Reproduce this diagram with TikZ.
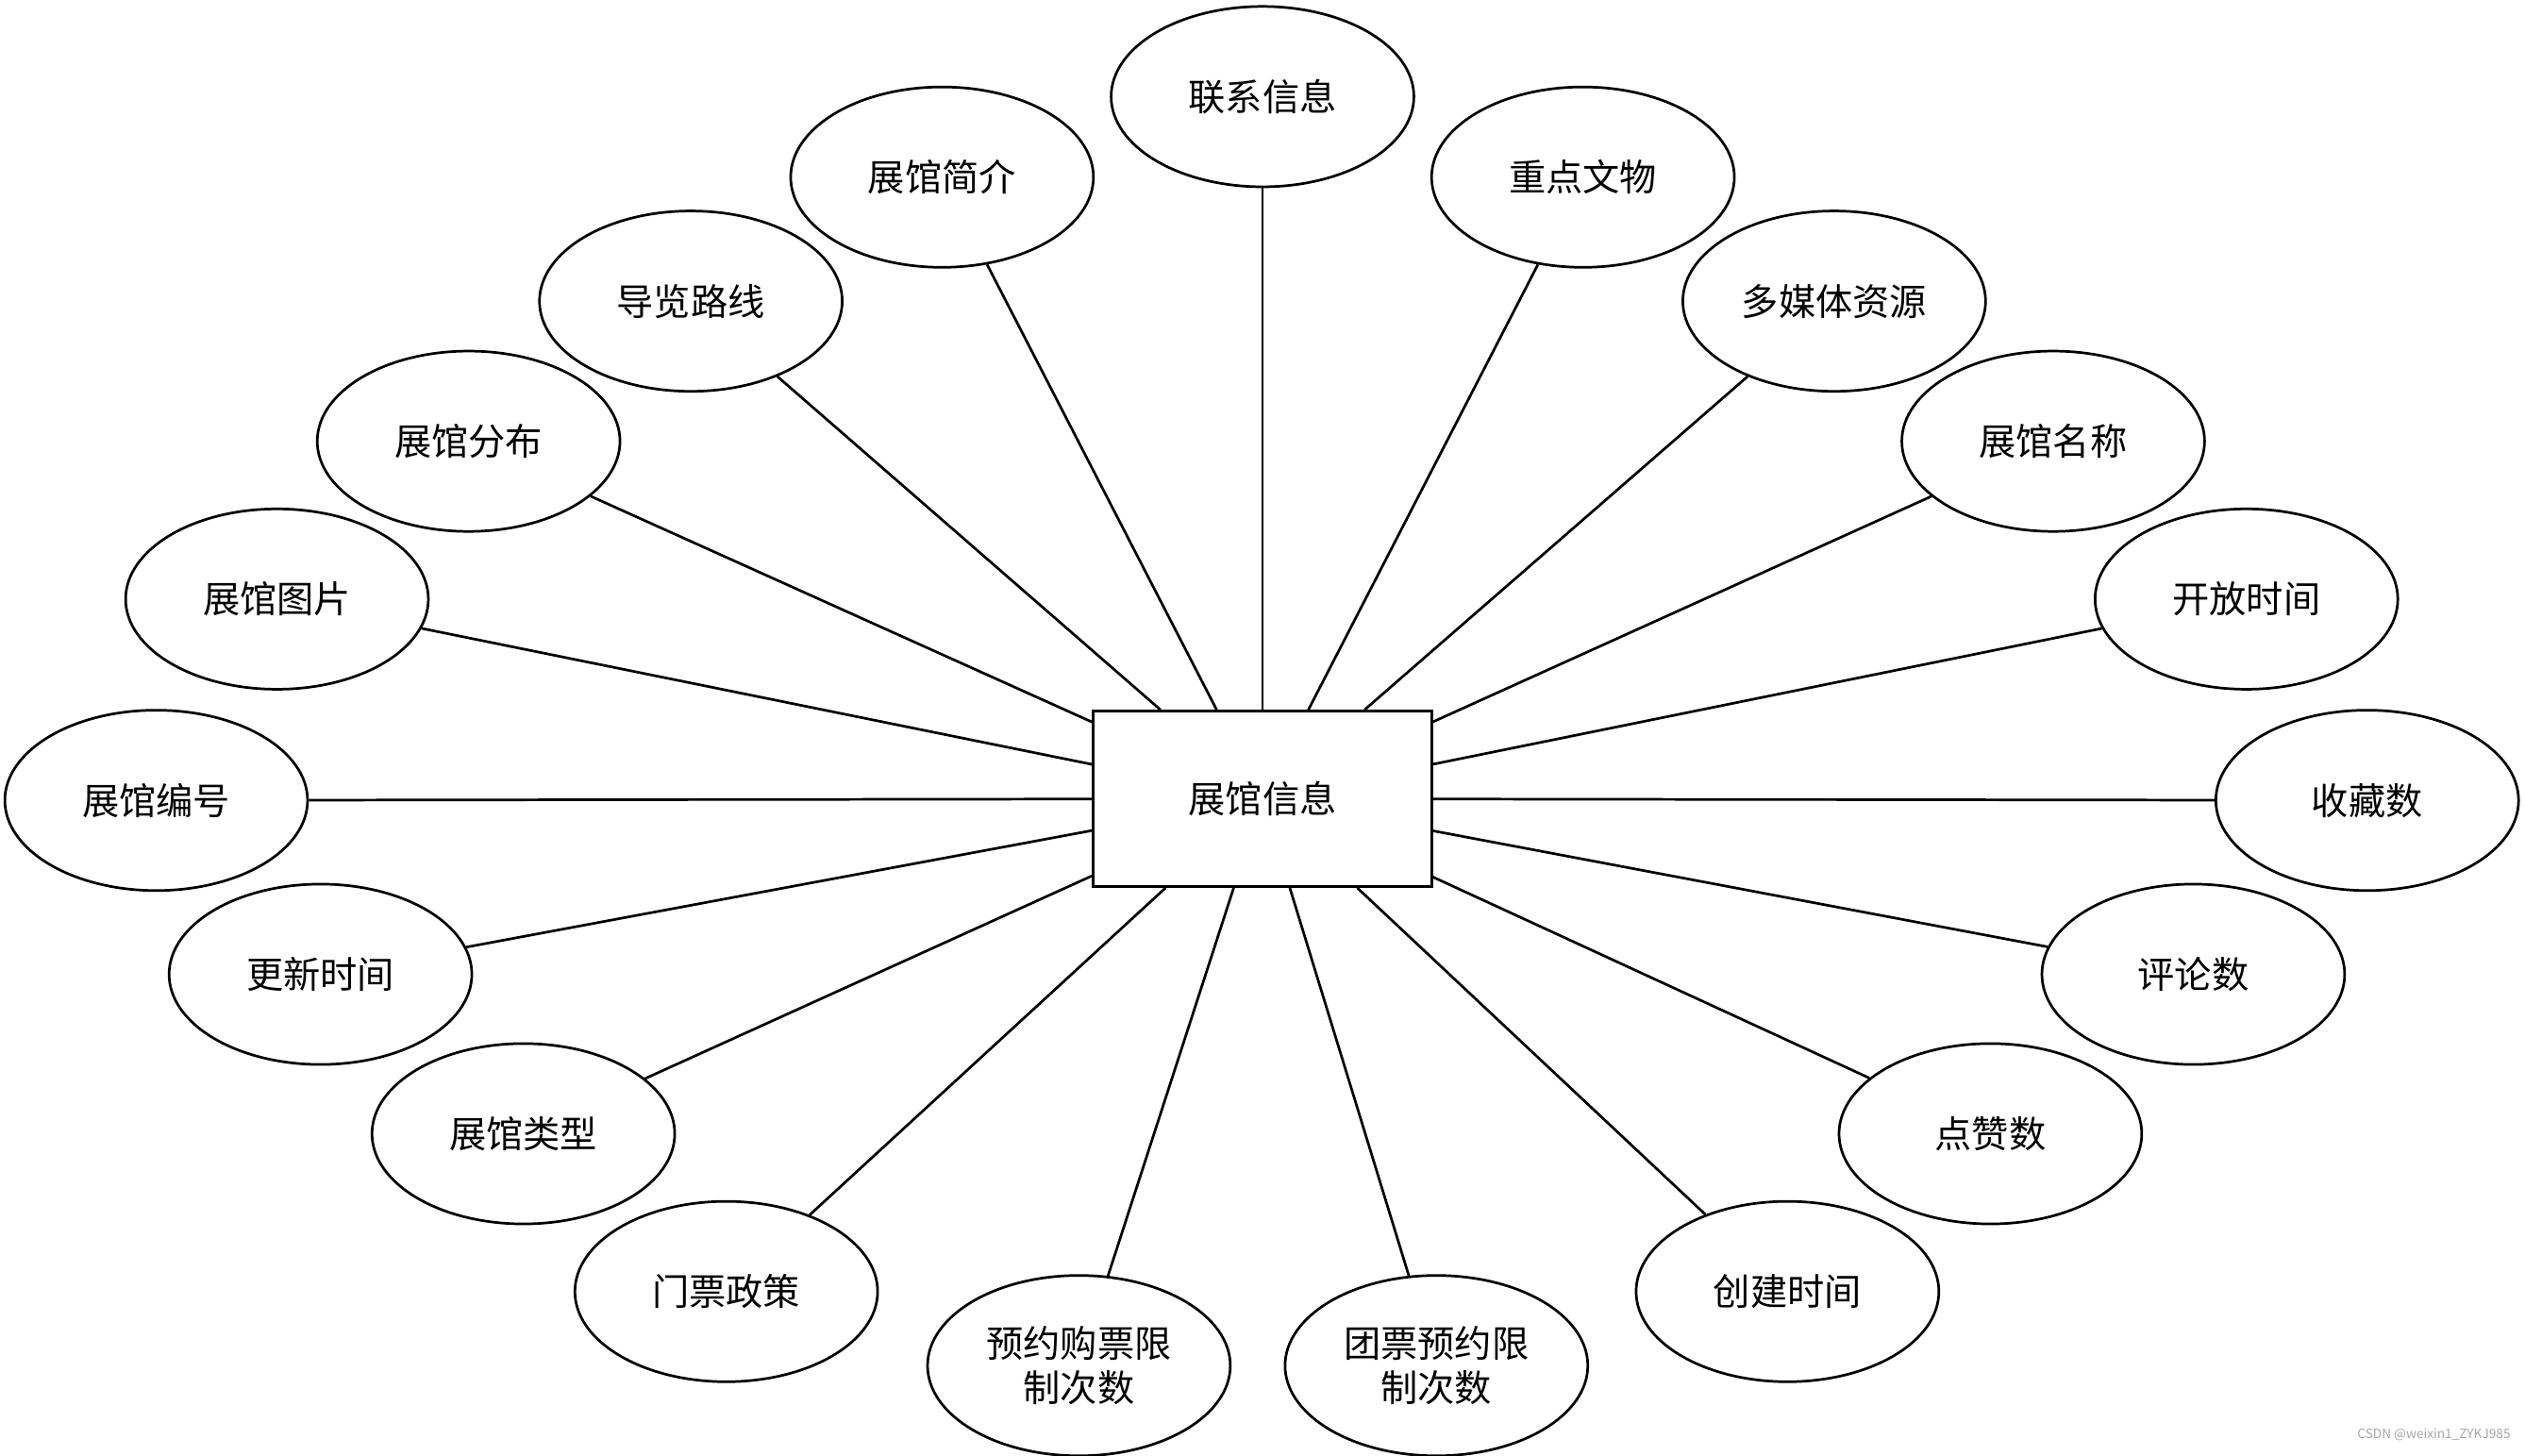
\documentclass[tikz,border=0pt]{standalone}
\usepackage{fontspec}
\setmainfont{Noto Sans CJK SC}
\usetikzlibrary{shapes.geometric}
\begin{document}
\begin{tikzpicture}[x=0.5pt,y=-0.5pt,
  attr/.style={draw,line width=0.8pt,ellipse,minimum width=94pt,minimum height=56pt,inner sep=0pt,font=\fontsize{11.5pt}{14pt}\selectfont,align=center},
  ent/.style={draw,line width=0.8pt,rectangle,minimum width=105pt,minimum height=54.5pt,font=\fontsize{11.5pt}{14pt}\selectfont},
  link/.style={line width=0.8pt}]
\useasboundingbox (0,0) rectangle (1568,904);
\node[ent] (c) at (784,496) {展馆信息};
\node[attr] (a1) at (784,60) {联系信息};
\node[attr] (a2) at (585,110) {展馆简介};
\node[attr] (a3) at (983,110) {重点文物};
\node[attr] (a4) at (429,187) {导览路线};
\node[attr] (a5) at (1139,187) {多媒体资源};
\node[attr] (a6) at (291,274) {展馆分布};
\node[attr] (a7) at (1275,274) {展馆名称};
\node[attr] (a8) at (172,372) {展馆图片};
\node[attr] (a9) at (1395,372) {开放时间};
\node[attr] (a10) at (97,497) {展馆编号};
\node[attr] (a11) at (1470,497) {收藏数};
\node[attr] (a12) at (199,605) {更新时间};
\node[attr] (a13) at (1362,605) {评论数};
\node[attr] (a14) at (325,704) {展馆类型};
\node[attr] (a15) at (1236,704) {点赞数};
\node[attr] (a16) at (451,802) {门票政策};
\node[attr] (a17) at (1110,802) {创建时间};
\node[attr] (a18) at (670,848) {预约购票限\\制次数};
\node[attr] (a19) at (892,848) {团票预约限\\制次数};
\foreach \i in {1,...,19} \draw[link] (c) -- (a\i);
\node[anchor=south east,text=gray!70,font=\fontsize{4pt}{5pt}\selectfont] (wm) at (1566,902) {CSDN @weixin1\_ZYKJ985};
\end{tikzpicture}
\end{document}
